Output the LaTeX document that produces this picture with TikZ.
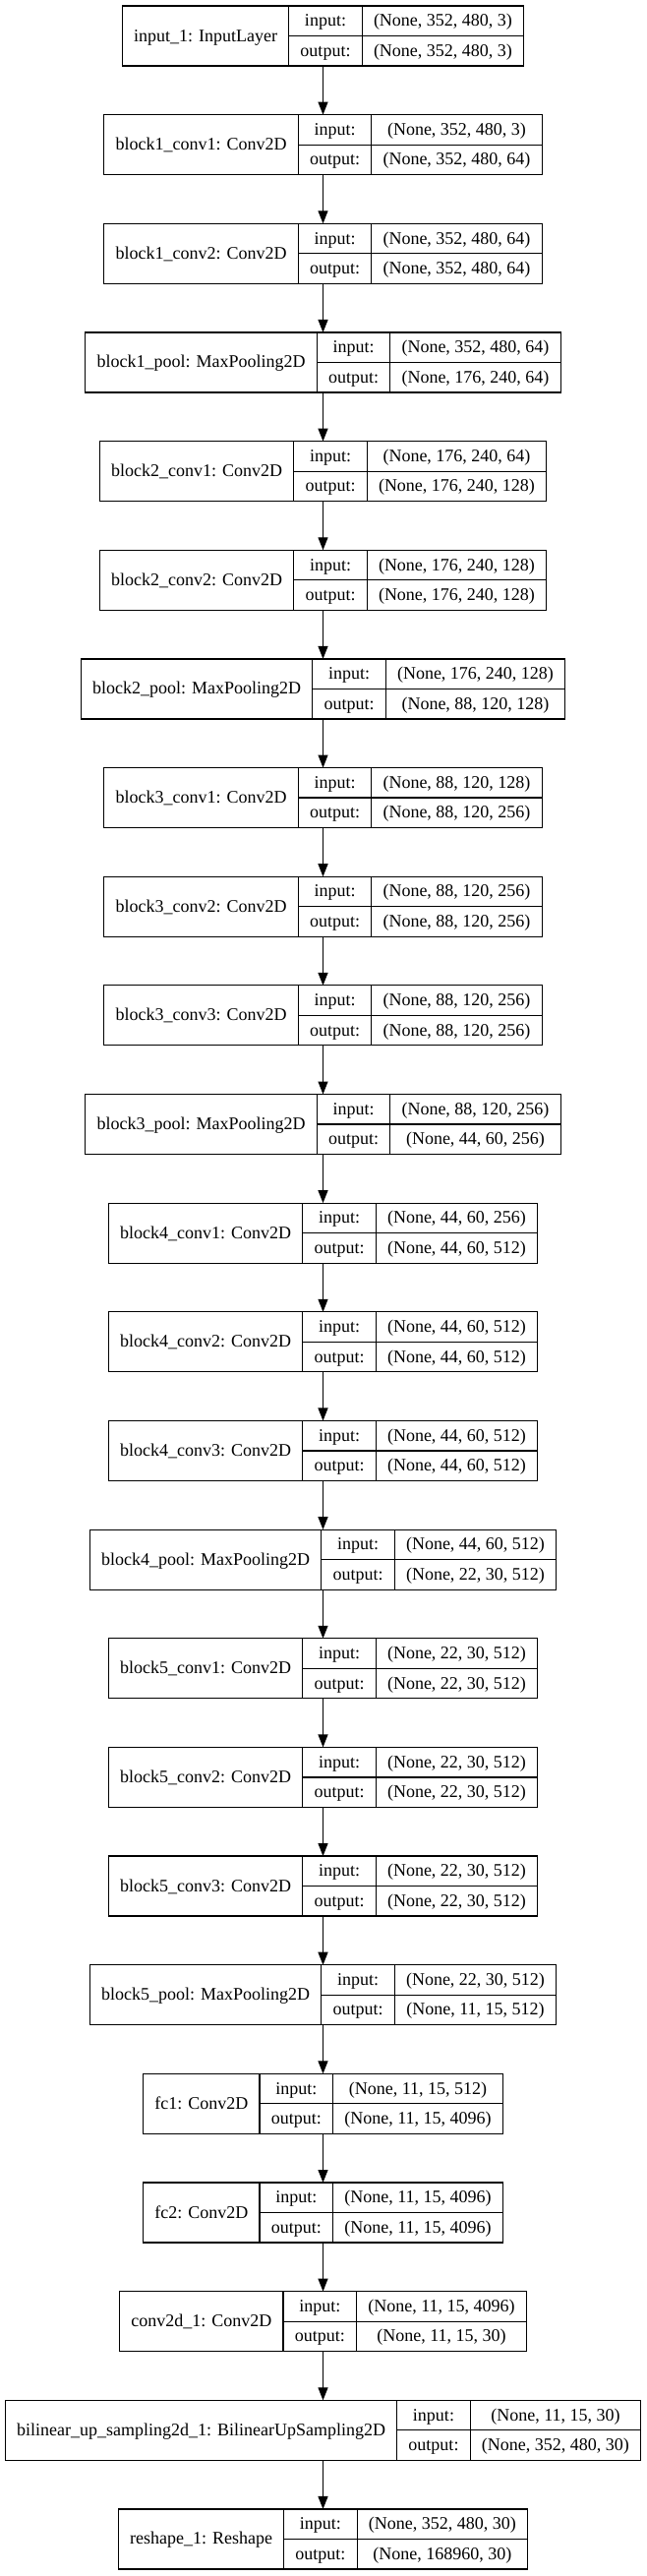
\documentclass[tikz,border=0pt]{standalone}
\usepackage{fontspec}
\setmainfont{Liberation Serif}
\usetikzlibrary{arrows.meta}
\newlength\wn \newlength\wl \newlength\wv \newlength\wt
\newcommand\lf{\fontsize{18}{21}\selectfont}
\newcommand\mw[2]{\pgfinterruptpicture\settowidth#1{\lf #2}\global#1=#1\relax\endpgfinterruptpicture}
\tikzset{
  box/.style={draw, line width=1.2pt, minimum height=61pt, inner sep=0pt, outer sep=0pt},
  cellline/.style={line width=1.2pt},
  txt/.style={anchor=base, inner sep=0pt, font=\lf},
  arr/.style={line width=1.2pt, -{Triangle[length=13pt,width=10pt]}}
}
\newcommand\lyr[5]{%
  \mw\wn{#3}\addtolength\wn{23.5pt}%
  \mw\wl{output:}\addtolength\wl{23.5pt}%
  \mw\wv{#4}\mw\wt{#5}%
  \ifdim\wt>\wv \setlength\wv{\wt}\fi \addtolength\wv{23.5pt}%
  \pgfmathsetmacro\W{\wn+\wl+\wv}%
  \pgfmathsetmacro\cy{36.5+#2*110.65}%
  \pgfmathsetmacro\xl{328.5-\W/2}%
  \pgfmathsetmacro\xa{\xl+\wn}%
  \pgfmathsetmacro\xb{\xa+\wl}%
  \pgfmathsetmacro\xr{\xl+\W}%
  \node[box, minimum width=\W pt] (#1) at (328.5,\cy) {};
  \draw[cellline] (\xa,{\cy-30.5}) -- (\xa,{\cy+30.5});
  \draw[cellline] (\xb,{\cy-30.5}) -- (\xb,{\cy+30.5});
  \draw[cellline] (\xa,\cy) -- (\xr,\cy);
  \node[txt] (#1-n) at ({(\xl+\xa)/2},{\cy+5.5}) {#3};
  \node[txt] (#1-li) at ({(\xa+\xb)/2},{\cy-15.25+5.5}) {input:};
  \node[txt] (#1-lo) at ({(\xa+\xb)/2},{\cy+15.25+5.5}) {output:};
  \node[txt] (#1-vi) at ({(\xb+\xr)/2},{\cy-15.25+5.5}) {#4};
  \node[txt] (#1-vo) at ({(\xb+\xr)/2},{\cy+15.25+5.5}) {#5};
}
\begin{document}
\begin{tikzpicture}[x=1pt,y=-1pt]
\fill[white] (0,0) rectangle (657,2619);
\useasboundingbox (0,0) rectangle (657,2619);
\lyr{L1}{0}{input\_1: InputLayer}{(None, 352, 480, 3)}{(None, 352, 480, 3)}
\lyr{L2}{1}{block1\_conv1: Conv2D}{(None, 352, 480, 3)}{(None, 352, 480, 64)}
\lyr{L3}{2}{block1\_conv2: Conv2D}{(None, 352, 480, 64)}{(None, 352, 480, 64)}
\lyr{L4}{3}{block1\_pool: MaxPooling2D}{(None, 352, 480, 64)}{(None, 176, 240, 64)}
\lyr{L5}{4}{block2\_conv1: Conv2D}{(None, 176, 240, 64)}{(None, 176, 240, 128)}
\lyr{L6}{5}{block2\_conv2: Conv2D}{(None, 176, 240, 128)}{(None, 176, 240, 128)}
\lyr{L7}{6}{block2\_pool: MaxPooling2D}{(None, 176, 240, 128)}{(None, 88, 120, 128)}
\lyr{L8}{7}{block3\_conv1: Conv2D}{(None, 88, 120, 128)}{(None, 88, 120, 256)}
\lyr{L9}{8}{block3\_conv2: Conv2D}{(None, 88, 120, 256)}{(None, 88, 120, 256)}
\lyr{L10}{9}{block3\_conv3: Conv2D}{(None, 88, 120, 256)}{(None, 88, 120, 256)}
\lyr{L11}{10}{block3\_pool: MaxPooling2D}{(None, 88, 120, 256)}{(None, 44, 60, 256)}
\lyr{L12}{11}{block4\_conv1: Conv2D}{(None, 44, 60, 256)}{(None, 44, 60, 512)}
\lyr{L13}{12}{block4\_conv2: Conv2D}{(None, 44, 60, 512)}{(None, 44, 60, 512)}
\lyr{L14}{13}{block4\_conv3: Conv2D}{(None, 44, 60, 512)}{(None, 44, 60, 512)}
\lyr{L15}{14}{block4\_pool: MaxPooling2D}{(None, 44, 60, 512)}{(None, 22, 30, 512)}
\lyr{L16}{15}{block5\_conv1: Conv2D}{(None, 22, 30, 512)}{(None, 22, 30, 512)}
\lyr{L17}{16}{block5\_conv2: Conv2D}{(None, 22, 30, 512)}{(None, 22, 30, 512)}
\lyr{L18}{17}{block5\_conv3: Conv2D}{(None, 22, 30, 512)}{(None, 22, 30, 512)}
\lyr{L19}{18}{block5\_pool: MaxPooling2D}{(None, 22, 30, 512)}{(None, 11, 15, 512)}
\lyr{L20}{19}{fc1: Conv2D}{(None, 11, 15, 512)}{(None, 11, 15, 4096)}
\lyr{L21}{20}{fc2: Conv2D}{(None, 11, 15, 4096)}{(None, 11, 15, 4096)}
\lyr{L22}{21}{conv2d\_1: Conv2D}{(None, 11, 15, 4096)}{(None, 11, 15, 30)}
\lyr{L23}{22}{bilinear\_up\_sampling2d\_1: BilinearUpSampling2D}{(None, 11, 15, 30)}{(None, 352, 480, 30)}
\lyr{L24}{23}{reshape\_1: Reshape}{(None, 352, 480, 30)}{(None, 168960, 30)}
\foreach \i [evaluate=\i as \j using int(\i+1)] in {1,...,23}
  \draw[arr] (L\i.south) -- (L\j.north);
\end{tikzpicture}
\end{document}
